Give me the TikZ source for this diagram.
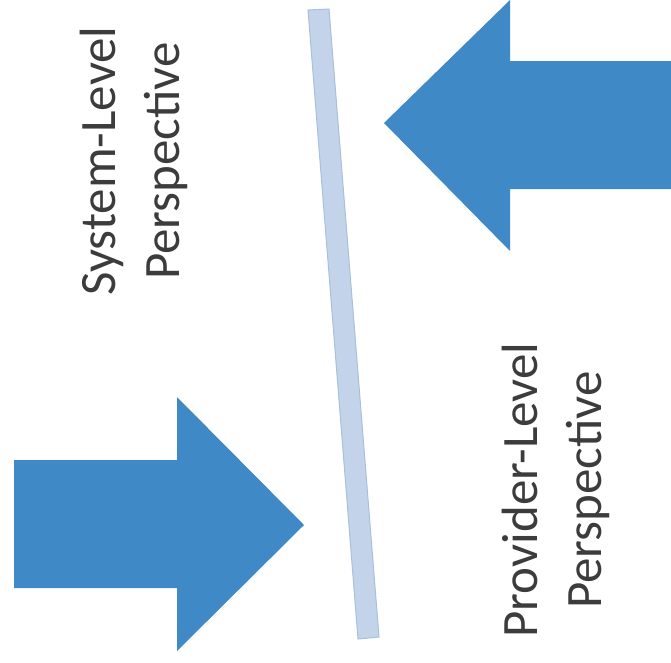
\documentclass[tikz,border=0pt]{standalone}
\usepackage{fontspec}
\setmainfont{Carlito}
\definecolor{arrowblue}{HTML}{3F89C6}
\definecolor{barfill}{HTML}{C3D4EA}
\definecolor{barline}{HTML}{A9BFDC}
\definecolor{txt}{HTML}{3C3C3C}
\begin{document}
\begin{tikzpicture}[x=1pt,y=-1pt,
  bigarrow/.style={fill=arrowblue},
  persp/.style={text=txt,rotate=90,align=center,inner sep=0pt,font=\fontsize{51}{64}\selectfont}]
\useasboundingbox (0,0) rectangle (671,662);
% divider bar
\filldraw[fill=barfill,draw=barline,line width=1pt] (308,10) -- (329,9) -- (379,637) -- (358,639) -- cycle;
% top-right arrow pointing left
\fill[bigarrow] (671,61) -- (510,61) -- (510,0) -- (384,123) -- (510,251) -- (510,189) -- (671,189) -- cycle;
% bottom-left arrow pointing right
\fill[bigarrow] (14,460) -- (177,460) -- (177,397) -- (304,525) -- (177,651) -- (177,588) -- (14,588) -- cycle;
% labels
\node[persp] (sys) at (134,161) {System-Level\\Perspective};
\node[persp] (prov) at (556,490) {Provider-Level\\Perspective};
\end{tikzpicture}
\end{document}
